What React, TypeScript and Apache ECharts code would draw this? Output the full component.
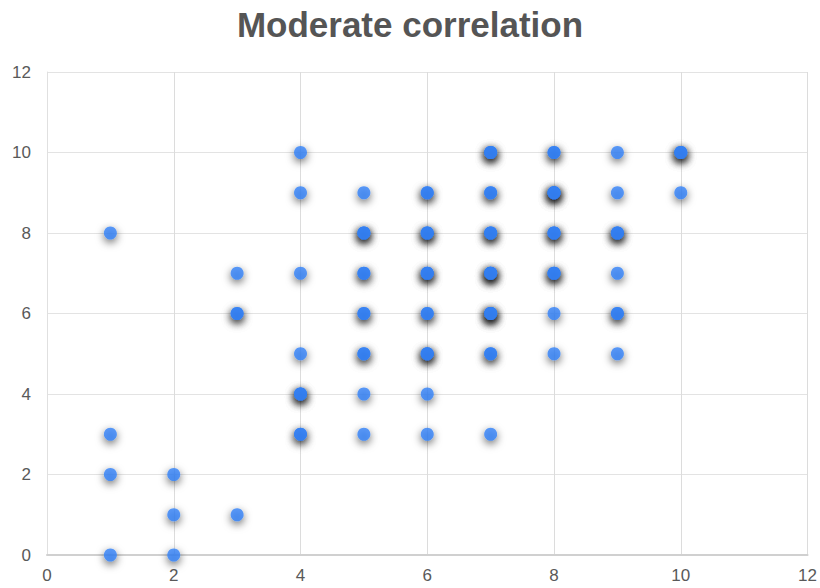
import React, { useEffect, useRef } from "react";
import * as echarts from "echarts";

const titleText = "Moderate correlation";
const xTicks = [0, 2, 4, 6, 8, 10, 12];
// observations (duplicates allowed; overlapping dots darken the shadow)
const xValues = [
  1, 1, 1, 1,
  2, 2, 2,
  3, 3, 3, 3,
  4, 4, 4, 4, 4, 4, 4, 4, 4,
  5, 5, 5, 5, 5, 5, 5, 5, 5, 5, 5, 5,
  6, 6, 6, 6, 6, 6, 6, 6, 6, 6, 6, 6, 6, 6, 6,
  7, 7, 7, 7, 7, 7, 7, 7, 7, 7, 7, 7, 7, 7, 7, 7, 7, 7, 7,
  8, 8, 8, 8, 8, 8, 8, 8, 8, 8, 8, 8, 8, 8,
  9, 9, 9, 9, 9, 9, 9, 9, 9,
  10, 10, 10, 10,
];
const yValues = [
  8, 3, 2, 0,
  2, 1, 0,
  7, 6, 6, 1,
  10, 9, 7, 5, 4, 4, 4, 3, 3,
  9, 8, 8, 8, 7, 7, 6, 6, 5, 5, 4, 3,
  9, 9, 8, 8, 8, 7, 7, 7, 6, 6, 5, 5, 5, 4, 3,
  10, 10, 10, 9, 9, 8, 8, 8, 7, 7, 7, 7, 6, 6, 6, 6, 5, 5, 3,
  10, 10, 9, 9, 9, 9, 8, 8, 8, 7, 7, 7, 6, 5,
  10, 9, 8, 8, 8, 7, 6, 6, 5,
  10, 10, 10, 9,
];

export default function App() {
  const ref = useRef<HTMLDivElement>(null);
  useEffect(() => {
    if (!ref.current) return;
    const chart = echarts.init(ref.current, undefined, { renderer: "svg" });
    const data = xValues.map((x, i) => [x, yValues[i]]);
    const labelStyle = {
      color: "#595959",
      fontSize: 17,
      fontFamily: "Liberation Sans, Arial, sans-serif",
    };
    chart.setOption({
      animation: false,
      backgroundColor: "#ffffff",
      title: {
        text: titleText,
        left: "center",
        top: 2,
        textStyle: {
          color: "#555555",
          fontSize: 35,
          fontWeight: "bold",
          fontFamily: "Liberation Sans, Arial, sans-serif",
        },
      },
      grid: { left: 47, right: 10, top: 72, bottom: 33, containLabel: false },
      xAxis: {
        type: "value",
        min: xTicks[0],
        max: xTicks[xTicks.length - 1],
        interval: 2,
        axisLine: { show: true, lineStyle: { color: "#d0d0d0", width: 2 } },
        axisTick: { show: false },
        axisLabel: { ...labelStyle, margin: 12 },
        splitLine: { show: true, lineStyle: { color: "#dcdcdc", width: 1 } },
      },
      yAxis: {
        type: "value",
        min: 0,
        max: 12,
        interval: 2,
        axisLine: { show: true, lineStyle: { color: "#e0e0e0", width: 1 } },
        axisTick: { show: false },
        axisLabel: { ...labelStyle, margin: 16 },
        splitLine: { show: true, lineStyle: { color: "#e3e3e3", width: 1 } },
      },
      series: [
        {
          type: "scatter",
          data,
          symbol: "circle",
          symbolSize: 13,
          itemStyle: {
            color: "#3281f6",
            shadowColor: "rgba(0,0,0,0.75)",
            shadowBlur: 9,
            shadowOffsetX: 0,
            shadowOffsetY: 3,
          },
        },
      ],
    });
    return () => chart.dispose();
  }, []);
  return <div ref={ref} style={{ width: 820, height: 588, position: "absolute", left: 0, top: 0 }} />;
}
